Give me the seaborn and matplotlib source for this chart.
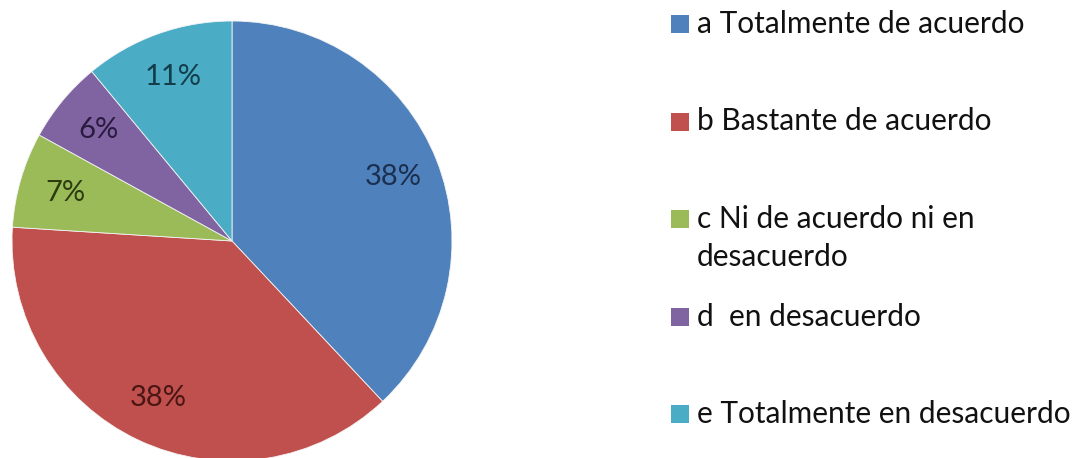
import matplotlib
matplotlib.use("Agg")
import matplotlib.pyplot as plt
import seaborn as sns

# data
categories = [
    "a Totalmente de acuerdo",
    "b Bastante de acuerdo",
    "c Ni de acuerdo ni en\ndesacuerdo",
    "d  en desacuerdo",
    "e Totalmente en desacuerdo",
]
percentages = [38, 38, 7, 6, 11]
slice_colors = ["#4F81BD", "#C0504D", "#9BBB59", "#8064A2", "#4BACC6"]
label_colors = ["#1B2F4F", "#4A1614", "#2C3B10", "#2A1A40", "#123E4A"]

sns.set_theme(style="white")
plt.rcParams["font.family"] = ["Lato", "DejaVu Sans"]

fig = plt.figure(figsize=(10.82, 4.58), dpi=100)
W, H = 1082, 458

# pie: centre about (232, 241) px, radius 220 px
cx, cy, r = 232, 241, 220
ax = fig.add_axes([(cx - r) / W, (H - cy - r) / H, 2 * r / W, 2 * r / H])
wedges, texts, autotexts = ax.pie(
    percentages,
    colors=sns.color_palette(slice_colors),
    startangle=90,
    counterclock=False,
    autopct="%d%%",
    pctdistance=0.79,
    wedgeprops=dict(edgecolor="#f4f4f4", linewidth=0.6),
    textprops=dict(fontsize=21),
)
for t, c in zip(autotexts, label_colors):
    t.set_color(c)
ax.set_aspect("equal")
ax.set_xlim(-1, 1)
ax.set_ylim(-1, 1)
ax.axis("off")

# legend drawn by hand so the two-line entry keeps the Excel spacing
lax = fig.add_axes([0, 0, 1, 1])
lax.set_xlim(0, W)
lax.set_ylim(H, 0)
lax.axis("off")
step = 97.5
for i, (lab, col) in enumerate(zip(categories, slice_colors)):
    y = 24 + i * step
    lax.scatter([680], [y], marker="s", s=150, color=col, linewidths=0)
    lax.text(697, y - 14, lab, fontsize=21.5, color="#111111", va="top",
             ha="left", linespacing=1.45)

fig.savefig("out.png", dpi=100)
